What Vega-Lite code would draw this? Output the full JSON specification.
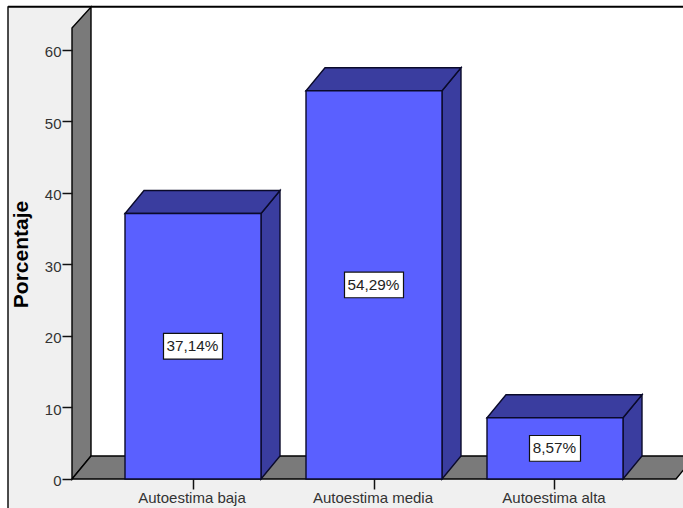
{
 "$schema":"https://vega.github.io/schema/vega-lite/v6.json",
 "width":683,"height":508,"padding":0,"autosize":{"type":"none"},"background":"white",
 "config":{"view":{"stroke":null},"font":"Liberation Sans"},
 "datasets":{"barras":[
  {"categoria":"Autoestima baja","porcentaje":37.14,"etiqueta":"37,14%"},
  {"categoria":"Autoestima media","porcentaje":54.29,"etiqueta":"54,29%"},
  {"categoria":"Autoestima alta","porcentaje":8.57,"etiqueta":"8,57%"}]},
 "resolve":{"scale":{"x":"independent"},"axis":{"x":"independent"}},
 "layer":[
  {"data":{"values":[{}]},"mark":{"type":"rect","fill":"#f0f0f0"},
   "encoding":{"x":{"datum":8,"type":"quantitative","scale":{"domain":[0,683],"nice":false,"zero":false},"axis":null},"x2":{"datum":684},
    "y":{"datum":66.1,"type":"quantitative","scale":{"domain":[-4.056,66.99],"nice":false,"zero":false},
     "axis":{"orient":"left","offset":-72,"values":[0,10,20,30,40,50,60],"grid":false,"domain":false,"tickSize":10,"tickWidth":1.5,"tickColor":"#111","labelFontSize":15,"labelColor":"#333","labelPadding":1,"labelOffset":2,"zindex":1,"labelFont":"Liberation Sans",
      "title":"Porcentaje","titleFont":"Liberation Sans","titleFontSize":21,"titleFontWeight":"bold","titleColor":"#000","titleX":-41,"titleY":254}},"y2":{"datum":-4.1}}},
  {"data":{"values":[{}]},"mark":{"type":"rect","fill":"#ffffff"},
   "encoding":{"x":{"datum":91,"type":"quantitative","scale":{"domain":[0,683],"nice":false,"zero":false},"axis":null},"x2":{"datum":684},
    "y":{"datum":66.01,"type":"quantitative"},"y2":{"datum":3.217}}},
  {"data":{"values":[{"xa":72,"ya":0,"yb":63.08},{"xa":91,"ya":3.217,"yb":66.01}]},
   "mark":{"type":"area","fill":"#7a7a7a","stroke":"#000","strokeWidth":1.4,"interpolate":"linear"},
   "encoding":{"x":{"field":"xa","type":"quantitative","scale":{"domain":[0,683],"nice":false,"zero":false},"axis":null},
    "y":{"field":"yb","type":"quantitative","stack":null},"y2":{"field":"ya"}}},
  {"data":{"values":[{"ya":0,"xa":72,"xb":676},{"ya":3.217,"xa":91,"xb":695}]},
   "mark":{"type":"area","orient":"horizontal","fill":"#7a7a7a","stroke":"#000","strokeWidth":1.4,"interpolate":"linear","clip":true},
   "encoding":{"y":{"field":"ya","type":"quantitative"},
    "x":{"field":"xa","type":"quantitative","stack":null,"scale":{"domain":[0,683],"nice":false,"zero":false},"axis":null},"x2":{"field":"xb"}}},
  {"data":{"name":"barras"},
   "transform":[
    {"calculate":"indexof(['Autoestima baja','Autoestima media','Autoestima alta'],datum.categoria)*181+125","as":"izq"},
    {"calculate":"[0,1]","as":"k"},{"flatten":["k"]},
    {"calculate":"datum.izq+136+19*datum.k","as":"xp"},
    {"calculate":"3.217*datum.k","as":"y0"},
    {"calculate":"datum.porcentaje+3.217*datum.k","as":"y1"}],
   "mark":{"type":"area","fill":"#3a3d9f","stroke":"#0a0a2a","strokeWidth":1.4,"interpolate":"linear"},
   "encoding":{"x":{"field":"xp","type":"quantitative","scale":{"domain":[0,683],"nice":false,"zero":false},"axis":null},
    "y":{"field":"y1","type":"quantitative","stack":null},"y2":{"field":"y0"},"detail":{"field":"categoria"}}},
  {"data":{"name":"barras"},
   "transform":[
    {"calculate":"indexof(['Autoestima baja','Autoestima media','Autoestima alta'],datum.categoria)*181+125","as":"izq"},
    {"calculate":"[0,1]","as":"k"},{"flatten":["k"]},
    {"calculate":"datum.izq+19*datum.k","as":"x0"},
    {"calculate":"datum.izq+136+19*datum.k","as":"x1"},
    {"calculate":"datum.porcentaje+3.217*datum.k","as":"yp"}],
   "mark":{"type":"area","orient":"horizontal","fill":"#3a3d9f","stroke":"#0a0a2a","strokeWidth":1.4,"interpolate":"linear"},
   "encoding":{"y":{"field":"yp","type":"quantitative"},
    "x":{"field":"x0","type":"quantitative","stack":null,"scale":{"domain":[0,683],"nice":false,"zero":false},"axis":null},"x2":{"field":"x1"},"detail":{"field":"categoria"}}},
  {"data":{"name":"barras"},
   "mark":{"type":"bar","fill":"#5a60ff","stroke":"#0a0a2a","strokeWidth":1.4},
   "encoding":{"x":{"field":"categoria","type":"nominal","sort":null,
     "scale":{"type":"band","range":[125,623],"paddingInner":0.2486,"paddingOuter":0},
     "axis":{"orient":"bottom","offset":-29,"title":null,"domain":false,"labelAngle":0,"tickSize":10,"tickWidth":1.5,"tickColor":"#111","labelFontSize":15,"labelColor":"#333","labelPadding":1,"labelOffset":-1,"zindex":1,"labelFont":"Liberation Sans"}},
    "y":{"field":"porcentaje","type":"quantitative","stack":null}}},
  {"data":{"name":"barras"},
   "transform":[
    {"calculate":"indexof(['Autoestima baja','Autoestima media','Autoestima alta'],datum.categoria)*181+193","as":"cx"},
    {"calculate":"length(datum.etiqueta)*4+5.5","as":"mw"},
    {"calculate":"datum.cx-datum.mw","as":"x0"},{"calculate":"datum.cx+datum.mw","as":"x1"},
    {"calculate":"datum.porcentaje/2+1.8","as":"y0"},{"calculate":"datum.porcentaje/2-1.8","as":"y1"}],
   "mark":{"type":"rect","fill":"#fff","stroke":"#111","strokeWidth":1.2},
   "encoding":{"x":{"field":"x0","type":"quantitative","scale":{"domain":[0,683],"nice":false,"zero":false},"axis":null},"x2":{"field":"x1"},
    "y":{"field":"y0","type":"quantitative"},"y2":{"field":"y1"}}},
  {"data":{"name":"barras"},
   "transform":[
    {"calculate":"indexof(['Autoestima baja','Autoestima media','Autoestima alta'],datum.categoria)*181+192.5","as":"cx"},
    {"calculate":"datum.porcentaje/2","as":"ym"}],
   "mark":{"type":"text","fontSize":15.3,"color":"#222","font":"Liberation Sans","align":"center","baseline":"middle"},
   "encoding":{"x":{"field":"cx","type":"quantitative","scale":{"domain":[0,683],"nice":false,"zero":false},"axis":null},
    "y":{"field":"ym","type":"quantitative"},"text":{"field":"etiqueta"}}},
  {"data":{"values":[{}]},"mark":{"type":"rule","stroke":"#000","strokeWidth":2},
   "encoding":{"x":{"datum":8,"type":"quantitative","scale":{"domain":[0,683],"nice":false,"zero":false},"axis":null},"x2":{"datum":684},"y":{"datum":66.05,"type":"quantitative"}}},
  {"data":{"values":[{}]},"mark":{"type":"rule","stroke":"#111","strokeWidth":1.5},
   "encoding":{"x":{"datum":8,"type":"quantitative","scale":{"domain":[0,683],"nice":false,"zero":false},"axis":null},"y":{"datum":66.1,"type":"quantitative"},"y2":{"datum":-4.1}}}
 ]
}
